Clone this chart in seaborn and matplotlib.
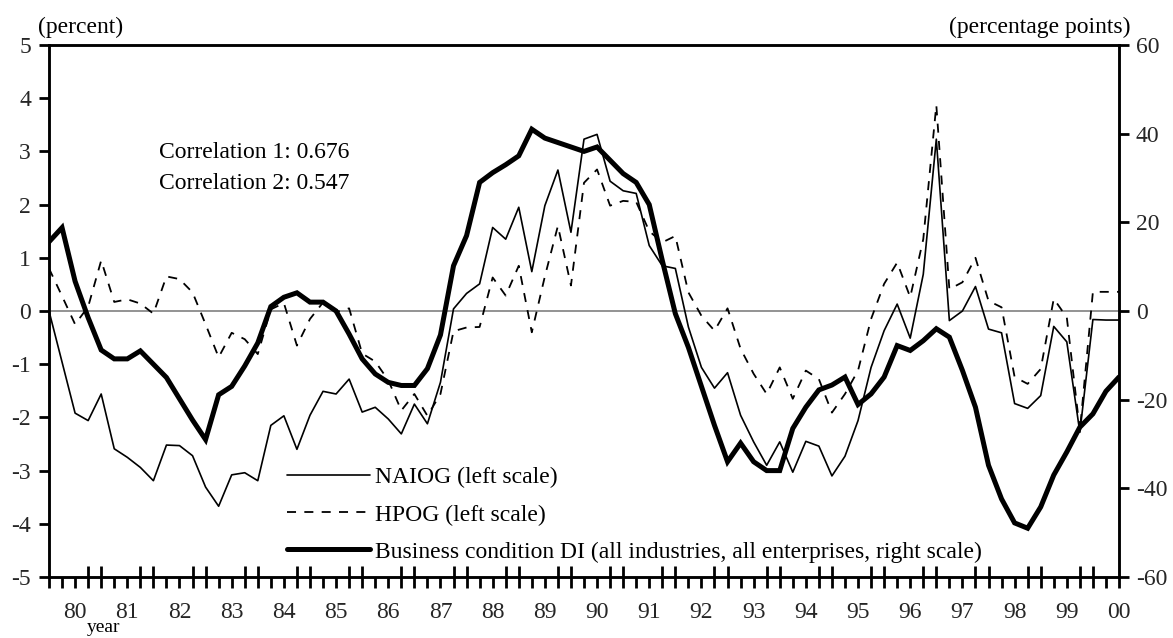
import numpy as np
import pandas as pd
import matplotlib
matplotlib.use("Agg")
import matplotlib.pyplot as plt
from matplotlib.ticker import FixedLocator, FixedFormatter
from matplotlib.lines import Line2D
import seaborn as sns

# ---------------- data (quarterly, 1979Q3 .. 2000Q1) ----------------
naiog = [0.0, -0.96, -1.92, -2.06, -1.56, -2.59, -2.75, -2.94, -3.19, -2.52,
         -2.53, -2.72, -3.31, -3.67, -3.08, -3.04, -3.19, -2.15, -1.97, -2.6,
         -1.96, -1.51, -1.56, -1.28, -1.9, -1.81, -2.03, -2.31, -1.75, -2.12,
         -1.34, 0.04, 0.33, 0.51, 1.57, 1.35, 1.95, 0.74, 1.98, 2.65,
         1.48, 3.23, 3.32, 2.44, 2.26, 2.21, 1.23, 0.85, 0.8, -0.3,
         -1.06, -1.45, -1.16, -1.96, -2.46, -2.9, -2.46, -3.03, -2.45, -2.54,
         -3.1, -2.73, -2.06, -1.06, -0.37, 0.13, -0.51, 0.69, 3.23, -0.18,
         0.0, 0.46, -0.34, -0.41, -1.74, -1.83, -1.59, -0.29, -0.58, -2.28,
         -0.16, -0.17, -0.17]

hpog = [0.8, 0.28, -0.25, 0.08, 0.95, 0.17, 0.22, 0.14, -0.05, 0.65,
        0.6, 0.35, -0.25, -0.87, -0.41, -0.53, -0.81, 0.03, 0.15, -0.65,
        -0.15, 0.16, -0.02, 0.05, -0.8, -0.95, -1.3, -1.87, -1.56, -1.97,
        -1.56, -0.38, -0.31, -0.3, 0.63, 0.29, 0.85, -0.4, 0.65, 1.6,
        0.48, 2.41, 2.66, 1.98, 2.07, 2.05, 1.5, 1.29, 1.41, 0.35,
        -0.09, -0.37, 0.05, -0.71, -1.18, -1.56, -1.06, -1.65, -1.12, -1.28,
        -1.91, -1.56, -1.12, -0.15, 0.51, 0.91, 0.26, 1.35, 3.87, 0.41,
        0.54, 1.0, 0.19, 0.07, -1.24, -1.37, -1.09, 0.23, -0.12, -2.25,
        0.36, 0.36, 0.36]

business_di = [15.6, 18.8, 6.7, -1.5, -8.8, -10.8, -10.8, -9.0, -12.0, -15.0,
               -19.8, -24.6, -29.0, -18.9, -17.0, -12.4, -7.2, 1.0, 3.1, 4.1,
               2.0, 2.0, 0.0, -5.2, -10.8, -14.2, -16.1, -16.8, -16.8, -13.0,
               -5.4, 10.2, 17.0, 29.0, 31.2, 33.0, 35.0, 41.0, 39.0, 38.0,
               37.0, 36.0, 37.0, 34.0, 31.0, 29.0, 24.0, 11.4, -0.6, -8.2,
               -17.0, -25.8, -34.0, -29.8, -34.0, -36.0, -36.0, -26.5, -21.7, -17.8,
               -16.7, -14.9, -21.1, -18.7, -14.9, -7.8, -8.9, -6.7, -4.0, -5.9,
               -13.4, -21.7, -34.8, -42.4, -47.8, -49.0, -44.2, -37.0, -31.8, -26.2,
               -23.2, -18.1, -14.9]

year_labels = ['80', '81', '82', '83', '84', '85', '86', '87', '88', '89', '90',
               '91', '92', '93', '94', '95', '96', '97', '98', '99', '00']

series_names = ['NAIOG (left scale)', 'HPOG (left scale)',
                'Business condition DI (all industries, all enterprises, right scale)']

# ---------------- style ----------------
sns.set_style("white")
plt.rcParams['font.family'] = ['Liberation Serif', 'DejaVu Serif']
FS = 17
plt.rcParams['font.size'] = FS
plt.rcParams['text.color'] = 'black'

W, H = 1173, 638
fig = plt.figure(figsize=(W / 100, H / 100), dpi=100)
L, R, B, T = 49, 1119, 577, 45
ax = fig.add_axes([L / W, 1 - B / H, (R - L) / W, (B - T) / H])
ax2 = ax.twinx()

n = len(naiog)
df = pd.DataFrame({'q': np.arange(n), 'naiog': naiog, 'hpog': hpog, 'di': business_di})

ax.axhline(0, color='#808080', lw=1.2, zorder=1)

sns.lineplot(data=df, x='q', y='naiog', ax=ax, color='black', lw=1.2, zorder=3)
sns.lineplot(data=df, x='q', y='hpog', ax=ax, color='black', lw=1.3, zorder=3)
ax.lines[-1].set_linestyle((0, (5.0, 4.6)))
sns.lineplot(data=df, x='q', y='di', ax=ax2, color='black', lw=3.6, zorder=4)
ax2.lines[-1].set_solid_joinstyle('miter')

ax.set_xlim(0, n - 1)
ax.set_ylim(-5, 5)
ax2.set_ylim(-60, 60)
ax.set_xlabel('')
ax.set_ylabel('')
ax2.set_ylabel('')

ax.set_yticks(np.arange(-5, 6, 1))
ax.set_yticklabels([str(v) for v in range(-5, 6)])
ax2.set_yticks(np.arange(-60, 61, 20))
ax2.set_yticklabels([str(v) for v in range(-60, 61, 20)])

# x ticks: quarterly; labels at every 4th quarter; crossing ticks at pairs
label_pos = [2 + 4 * k for k in range(len(year_labels))]
cross_pos = [i for i in range(n) if i % 4 in (3, 0) and i != 0]
plain_pos = [i for i in range(n) if i not in cross_pos]
lab_map = dict(zip(label_pos, year_labels))
ax.xaxis.set_major_locator(FixedLocator(plain_pos))
ax.xaxis.set_major_formatter(FixedFormatter([lab_map.get(i, '') for i in plain_pos]))
ax.xaxis.set_minor_locator(FixedLocator(cross_pos))
ax.tick_params(axis='x', which='major', direction='out', length=8, width=2.0,
               pad=10, bottom=True, color='black')
ax.tick_params(axis='x', which='minor', direction='inout', length=16, width=2.0,
               bottom=True, color='black')
ax.tick_params(axis='y', which='major', direction='out', length=7, width=2.0,
               pad=6, left=True, color='black')
ax2.tick_params(axis='y', which='major', direction='out', length=7, width=2.0,
                pad=5, right=True, color='black')

for a in (ax, ax2):
    for s in a.spines.values():
        s.set_visible(True)
        s.set_color('black')
        s.set_linewidth(1.8)
ax.grid(False)
ax2.grid(False)

# texts
fig.text(81 / W, 1 - 27 / H, '(percent)', ha='center', va='center')
fig.text(1040 / W, 1 - 27 / H, '(percentage points)', ha='center', va='center')
fig.text(104 / W, 1 - 627 / H, 'year', ha='center', va='center', fontsize=14)
fig.text(159 / W, 1 - 153 / H, 'Correlation 1: 0.676', ha='left', va='center')
fig.text(159 / W, 1 - 184 / H, 'Correlation 2: 0.547', ha='left', va='center')

handles = [Line2D([], [], color='black', lw=1.2),
           Line2D([], [], color='black', lw=1.3, ls=(0, (5.0, 4.6))),
           Line2D([], [], color='black', lw=3.6)]
leg = ax2.legend(handles, series_names, loc='upper left',
                 bbox_to_anchor=(287 / W, 1 - 467 / H), bbox_transform=fig.transFigure,
                 frameon=False, borderpad=0, borderaxespad=0, handlelength=3.5,
                 handletextpad=0.22, labelspacing=0.66)

fig.savefig('out.png', dpi=100)
